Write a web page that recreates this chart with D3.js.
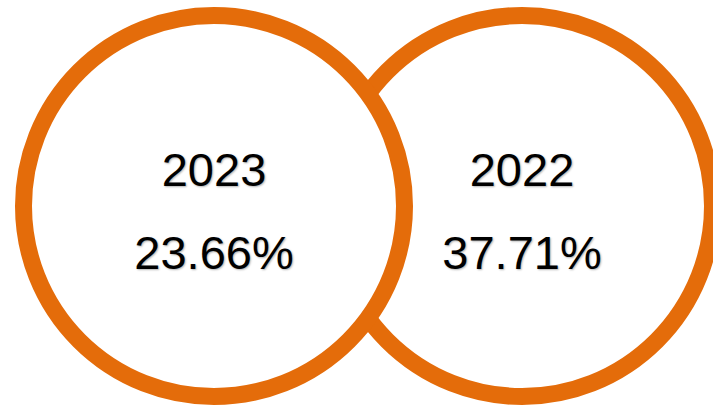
<!DOCTYPE html>
<html>
<head>
<meta charset="utf-8">
<script src="https://cdn.jsdelivr.net/npm/d3@7"></script>
<style>
  html, body { margin: 0; padding: 0; background: #fff; }
  svg { display: block; }
  text { font-family: "Liberation Sans", Arial, sans-serif; fill: #000; text-shadow: 1px 1px 2px rgba(0,0,0,0.3); }
</style>
</head>
<body>
<script>
const years = ["2023", "2022"];
const values = [23.66, 37.71];

const W = 713, H = 410;
const svg = d3.select("body").append("svg").attr("width", W).attr("height", H);

const x = d3.scalePoint().domain(years).range([214, 522]);
const cy = 206, r = 190.5;

const data = years.map((y, i) => ({ year: y, value: values[i] }));

// draw right (2022) first so left (2023) sits on top
const order = data.slice().reverse();
const g = svg.selectAll("g.c").data(order).join("g").attr("class", "c");

g.append("circle")
  .attr("cx", d => x(d.year))
  .attr("cy", cy)
  .attr("r", r)
  .attr("fill", "#fff")
  .attr("stroke", "#E46C0A")
  .attr("stroke-width", 17);

g.append("text")
  .attr("x", d => x(d.year))
  .attr("y", 186)
  .attr("text-anchor", "middle")
  .style("font-size", "47px")
  .text(d => d.year);

g.append("text")
  .attr("x", d => x(d.year))
  .attr("y", 269)
  .attr("text-anchor", "middle")
  .style("font-size", "47px")
  .text(d => d3.format(".2f")(d.value) + "%");
</script>
</body>
</html>
